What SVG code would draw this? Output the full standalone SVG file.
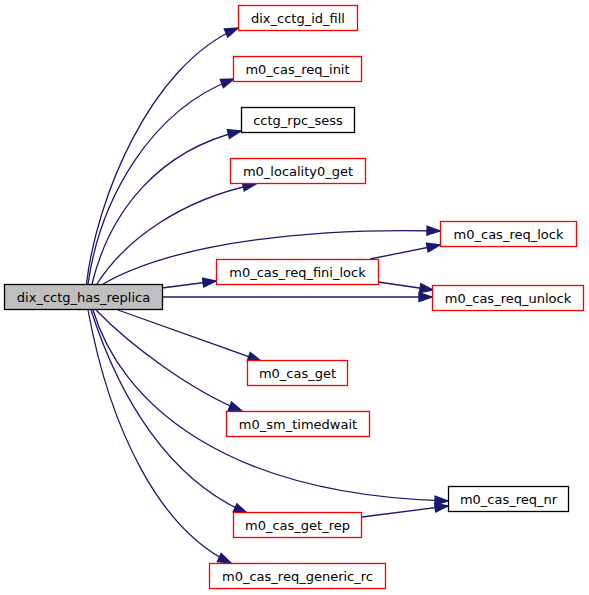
<svg xmlns="http://www.w3.org/2000/svg" width="589" height="595" viewBox="0 0 589 595">
<style>
.n rect{fill:#ffffff;stroke:#ff0000;stroke-width:1.3}
.n.b rect{stroke:#000000}
.n.root rect{fill:#bfbfbf;stroke:#000000}
.n text{font-family:"DejaVu Sans",sans-serif;font-size:13px;fill:#000000;text-anchor:middle}
#edges path{fill:none;stroke:#191970;stroke-width:1.3;marker-end:url(#arr)}
</style>
<defs>
<marker id="arr" markerUnits="userSpaceOnUse" markerWidth="16" markerHeight="12" refX="13" refY="5" orient="auto" overflow="visible">
<path d="M0,0.5 L13,5 L0,9.5 Z" fill="#191970" stroke="#191970" stroke-width="1.3"/>
</marker>
</defs>
<rect width="589" height="595" fill="#ffffff"/>
<g id="edges">
<path d="M86.5,284 C96,200 150,65 238,28"/>
<path d="M88,284 C100,200 150,110 234,79"/>
<path d="M92,284 C110,210 160,150 241,131"/>
<path d="M97,284 C125,240 180,200 256,184"/>
<path d="M103,284 C180,240 320,228 440,231"/>
<path d="M162,288 L216,281"/>
<path d="M162,297 L432,297"/>
<path d="M370,259 L440,245"/>
<path d="M378,282 L433,290"/>
<path d="M118,310 L261,361"/>
<path d="M96,310 C130,345 190,390 242,411"/>
<path d="M93,310 C120,400 220,495 448,501"/>
<path d="M91,310 C120,400 170,480 247,513"/>
<path d="M88,310 C110,430 160,530 231,563"/>
<path d="M362,517 L448,506"/>
</g>
<g id="dix_cctg_has_replica" class="n root"><rect x="4.5" y="284.5" width="158" height="25"/><text x="83.5" y="302">dix_cctg_has_replica</text></g>
<g id="dix_cctg_id_fill" class="n"><rect x="238.5" y="5.5" width="119" height="25"/><text x="298" y="22.5">dix_cctg_id_fill</text></g>
<g id="m0_cas_req_init" class="n"><rect x="233.5" y="56.5" width="128" height="25"/><text x="297.5" y="73.5">m0_cas_req_init</text></g>
<g id="cctg_rpc_sess" class="n b"><rect x="241.5" y="107.5" width="113" height="25"/><text x="298" y="124.5">cctg_rpc_sess</text></g>
<g id="m0_locality0_get" class="n"><rect x="230.5" y="158.5" width="135" height="25"/><text x="298" y="175.5">m0_locality0_get</text></g>
<g id="m0_cas_req_lock" class="n"><rect x="440.5" y="221.5" width="136" height="25"/><text x="508.5" y="238.5">m0_cas_req_lock</text></g>
<g id="m0_cas_req_fini_lock" class="n"><rect x="216.5" y="259.5" width="162" height="25"/><text x="297.5" y="276.5">m0_cas_req_fini_lock</text></g>
<g id="m0_cas_req_unlock" class="n"><rect x="432.5" y="285.5" width="151" height="25"/><text x="508" y="302.5">m0_cas_req_unlock</text></g>
<g id="m0_cas_get" class="n"><rect x="247.5" y="360.5" width="100" height="25"/><text x="297.5" y="377.5">m0_cas_get</text></g>
<g id="m0_sm_timedwait" class="n"><rect x="226.5" y="411.5" width="143" height="25"/><text x="298" y="428.5">m0_sm_timedwait</text></g>
<g id="m0_cas_req_nr" class="n b"><rect x="448.5" y="486.5" width="120" height="25"/><text x="508.5" y="503.5">m0_cas_req_nr</text></g>
<g id="m0_cas_get_rep" class="n"><rect x="233.5" y="512.5" width="128" height="25"/><text x="297.5" y="529.5">m0_cas_get_rep</text></g>
<g id="m0_cas_req_generic_rc" class="n"><rect x="209.5" y="563.5" width="176" height="25"/><text x="297.5" y="580.5">m0_cas_req_generic_rc</text></g>
</svg>
